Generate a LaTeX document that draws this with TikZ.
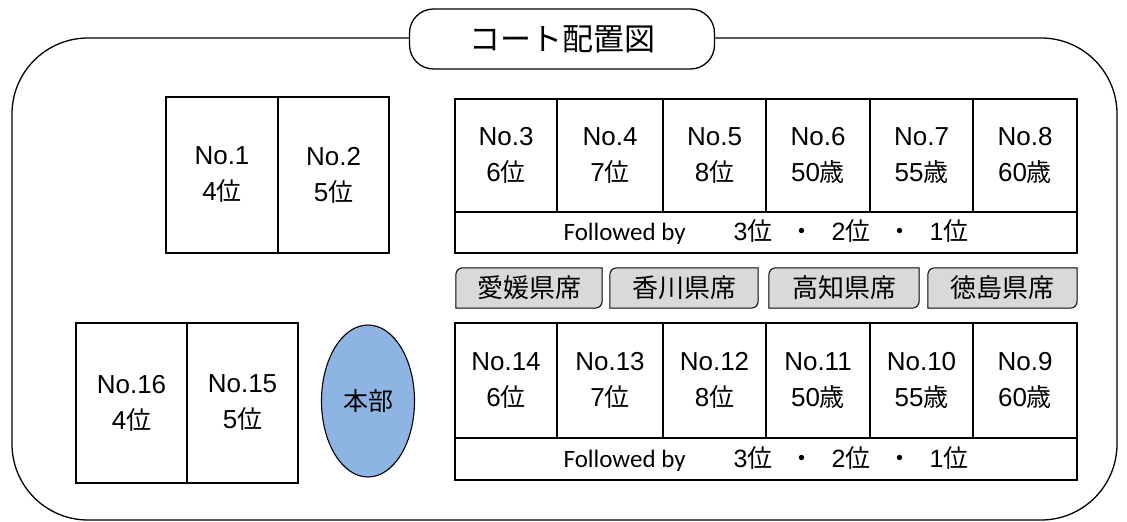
\documentclass[tikz,border=0pt]{standalone}
\usepackage{fontspec}
\setmainfont{Noto Sans CJK JP}
\newfontfamily\latinfont{Carlito}
\newfontfamily\lat{Liberation Sans}
\usetikzlibrary{calc,backgrounds,shapes.geometric}
\definecolor{seatgray}{RGB}{217,217,217}
\definecolor{hqblue}{RGB}{142,180,227}
\newcommand{\cellnum}[3]{{\fontsize{26}{36}\selectfont\lat #1}\\{\fontsize{26}{36}\selectfont\lat #2}#3}
\newcommand{\followtext}{{\fontsize{25}{30}\selectfont\latinfont Followed by}\hspace{48pt}{\lat 3}位\hspace{17pt}・\hspace{17pt}{\lat 2}位\hspace{17pt}・\hspace{17pt}{\lat 1}位}
\begin{document}
\begin{tikzpicture}[x=1pt,y=1pt,
  cell/.style={draw, line width=1.1pt, inner sep=0pt, align=center,
    font=\fontsize{25}{36}\selectfont},
  seattext/.style={inner sep=0pt, font=\fontsize{26}{30}\selectfont},
  seatshape/.style={draw, line width=1pt, fill=seatgray},
  follow/.style={draw, line width=1.1pt, inner sep=0pt, font=\fontsize{25}{30}\selectfont}]
\useasboundingbox (0,0) rectangle (1127,522);
% outer frame
\draw[line width=1.3pt, rounded corners=76] (12,2) rectangle (1117,484);
% title
\node[draw, fill=white, line width=1.3pt, rounded corners=24, minimum width=305,
  minimum height=60, inner sep=0pt, font=\fontsize{31}{36}\selectfont] (title) at (562,483) {コート配置図};
% No.1 / No.2
\node[cell, minimum width=112, minimum height=156] (c1) at (222,347) {\cellnum{No.1}{4}{位}};
\node[cell, minimum width=111, minimum height=156] (c2) at (333.5,347) {\cellnum{No.2}{5}{位}};
% top row
\node[cell, minimum width=102, minimum height=113] (c3) at (506,366.5) {\cellnum{No.3}{6}{位}};
\node[cell, minimum width=106, minimum height=113] (c4) at (610,366.5) {\cellnum{No.4}{7}{位}};
\node[cell, minimum width=103, minimum height=113] (c5) at (714.5,366.5) {\cellnum{No.5}{8}{位}};
\node[cell, minimum width=104, minimum height=113] (c6) at (818,366.5) {\cellnum{No.6}{50}{歳}};
\node[cell, minimum width=103, minimum height=113] (c7) at (921.5,366.5) {\cellnum{No.7}{55}{歳}};
\node[cell, minimum width=104, minimum height=113] (c8) at (1025,366.5) {\cellnum{No.8}{60}{歳}};
\node[follow, minimum width=622, minimum height=41] (f1) at (766,289.5) {\followtext};
% seats
\node[seattext, minimum width=146, minimum height=40] (s1) at (529,234) {愛媛県席};
\node[seattext, minimum width=148, minimum height=40] (s2) at (684,234) {香川県席};
\node[seattext, minimum width=150, minimum height=40] (s3) at (844,234) {高知県席};
\node[seattext, minimum width=149, minimum height=40] (s4) at (1002.5,234) {徳島県席};
\begin{scope}[on background layer]
\foreach \s in {s1,s2,s3,s4}{
  \draw[seatshape] ($(\s.north west)+(0,-7)$) arc[start angle=180, end angle=90, radius=7]
    -- (\s.north east) -- ($(\s.south east)+(0,7)$)
    arc[start angle=0, end angle=-90, radius=7] -- (\s.south west) -- cycle;
}
\end{scope}
% bottom row
\node[cell, minimum width=102, minimum height=115] (c14) at (506,141.5) {\cellnum{No.14}{6}{位}};
\node[cell, minimum width=106, minimum height=115] (c13) at (610,141.5) {\cellnum{No.13}{7}{位}};
\node[cell, minimum width=103, minimum height=115] (c12) at (714.5,141.5) {\cellnum{No.12}{8}{位}};
\node[cell, minimum width=104, minimum height=115] (c11) at (818,141.5) {\cellnum{No.11}{50}{歳}};
\node[cell, minimum width=103, minimum height=115] (c10) at (921.5,141.5) {\cellnum{No.10}{55}{歳}};
\node[cell, minimum width=104, minimum height=115] (c9) at (1025,141.5) {\cellnum{No.9}{60}{歳}};
\node[follow, minimum width=622, minimum height=42] (f2) at (766,63) {\followtext};
% No.16 / No.15
\node[cell, minimum width=111, minimum height=160] (c16) at (131.5,119) {\cellnum{No.16}{4}{位}};
\node[cell, minimum width=111, minimum height=160] (c15) at (242.5,119) {\cellnum{No.15}{5}{位}};
% headquarters
\node[ellipse, draw, line width=1.1pt, fill=hqblue, minimum width=93, minimum height=152,
  inner sep=0pt, font=\fontsize{25}{28}\selectfont] (hq) at (368,121) {本部};
\end{tikzpicture}
\end{document}
